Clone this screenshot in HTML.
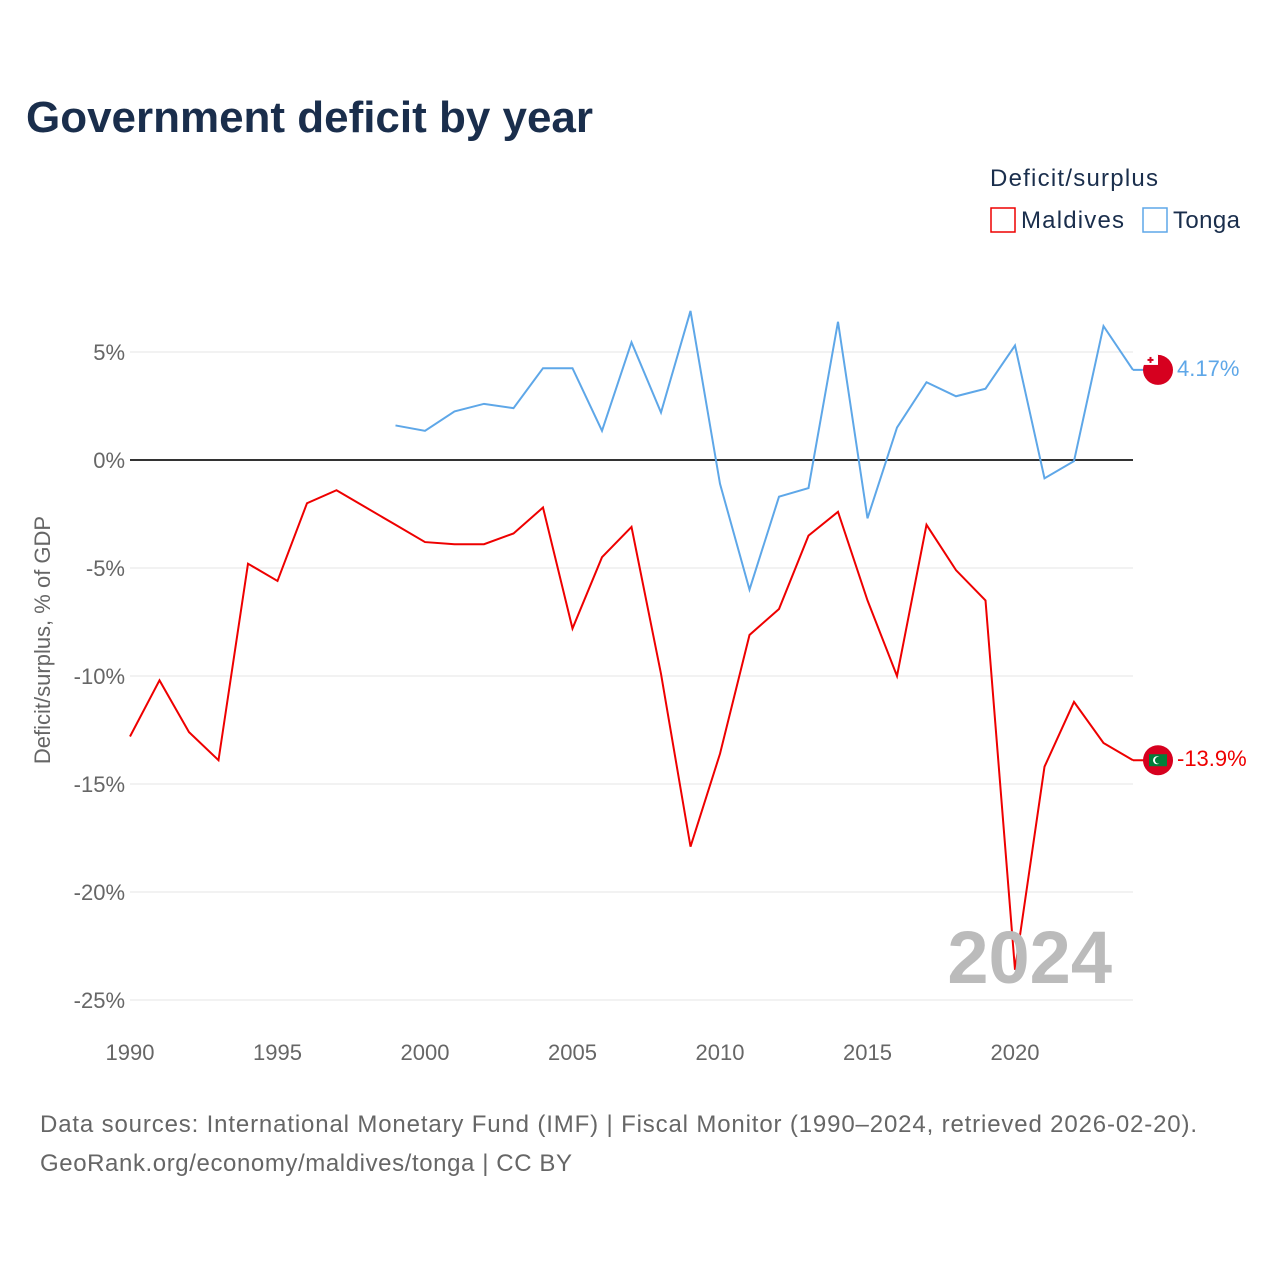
<!DOCTYPE html>
<html><head><meta charset="utf-8">
<style>
body{margin:0;background:#fff;font-family:"Liberation Sans",sans-serif;}
#wrap{position:relative;width:1280px;height:1280px;overflow:hidden;}
</style></head>
<body>
<div id="wrap">
<svg id="chart" width="1280" height="1280" xmlns="http://www.w3.org/2000/svg">
<text x="26" y="132" font-size="44" font-weight="bold" fill="#1a2e4c" textLength="567">Government deficit by year</text>
<text x="990" y="186" font-size="24" fill="#1a2e4c" textLength="168">Deficit/surplus</text>
<g>
<rect x="991" y="208" width="24" height="24" fill="none" stroke="#ee0000" stroke-width="1.5"/>
<text x="1021" y="228" font-size="24" fill="#1a2e4c" textLength="103">Maldives</text></g>
<g>
<rect x="1143" y="208" width="24" height="24" fill="none" stroke="#5ea7e8" stroke-width="1.5"/>
<text x="1173" y="228" font-size="24" fill="#1a2e4c" textLength="67">Tonga</text></g>
<text transform="translate(50,640) rotate(-90)" text-anchor="middle" font-size="22" fill="#666">Deficit/surplus, % of GDP</text>
<g id="grid"></g><g id="series"></g>
<text x="1112" y="983" text-anchor="end" font-size="74" font-weight="bold" fill="#bbb">2024</text>
<text x="40" y="1132" font-size="24" fill="#666" textLength="1157">Data sources: International Monetary Fund (IMF) | Fiscal Monitor (1990–2024, retrieved 2026-02-20).</text>
<text x="40" y="1171" font-size="24" fill="#666" textLength="532">GeoRank.org/economy/maldives/tonga | CC BY</text>
</svg></div>
<script>
const maldivesYears=[1990,1991,1992,1993,1994,1995,1996,1997,1998,1999,2000,2001,2002,2003,2004,2005,2006,2007,2008,2009,2010,2011,2012,2013,2014,2015,2016,2017,2018,2019,2020,2021,2022,2023,2024];
const maldivesValues=[-12.8,-10.2,-12.6,-13.9,-4.8,-5.6,-2.0,-1.4,-2.2,-3.0,-3.8,-3.9,-3.9,-3.4,-2.2,-7.8,-4.5,-3.1,-9.9,-17.9,-13.6,-8.1,-6.9,-3.5,-2.4,-6.5,-10.0,-3.0,-5.1,-6.5,-23.6,-14.2,-11.2,-13.1,-13.9];
const tongaYears=[1999,2000,2001,2002,2003,2004,2005,2006,2007,2008,2009,2010,2011,2012,2013,2014,2015,2016,2017,2018,2019,2020,2021,2022,2023,2024];
const tongaValues=[1.6,1.35,2.25,2.6,2.4,4.25,4.25,1.35,5.45,2.2,6.9,-1.1,-6.0,-1.7,-1.3,6.4,-2.7,1.5,3.6,2.95,3.3,5.3,-0.85,-0.05,6.2,4.17];
const yTicks=[5,0,-5,-10,-15,-20,-25];
const xTicks=[1990,1995,2000,2005,2010,2015,2020];
const NS="http://www.w3.org/2000/svg";
function xs(y){return 130+(y-1990)*(1133-130)/34;}
function ys(v){return 460-v*21.6;}
function mk(t,a,p){const e=document.createElementNS(NS,t);for(const k in a)e.setAttribute(k,a[k]);p.appendChild(e);return e;}
const grid=document.getElementById('grid'),ser=document.getElementById('series');
yTicks.forEach(v=>{
 const l=mk('line',{x1:130,x2:1133,y1:ys(v),y2:ys(v),stroke:v===0?'#333':'#e6e6e6','stroke-width':v===0?2:1},grid);
 
 
 const t=mk('text',{x:125,y:ys(v)+8,'text-anchor':'end','font-size':22,fill:'#666'},grid);
 t.textContent=v+'%';
 
 
});
xTicks.forEach(y=>{
 const t=mk('text',{x:xs(y),y:1060,'text-anchor':'middle','font-size':22,fill:'#666'},grid);
 t.textContent=y;
 
 
});
function line(years,vals,color,name,label,kind){
 const p=mk('polyline',{points:years.map((y,i)=>xs(y)+','+ys(vals[i])).join(' '),fill:'none',stroke:color,'stroke-width':2},ser);
 
 
 const ly=ys(vals[vals.length-1]);
 mk('line',{x1:1133,x2:1150,y1:ly,y2:ly,stroke:color,'stroke-width':2},ser);
 const c=mk('circle',{cx:1158,cy:ly,r:15,fill:'#d6001f'},ser);
 
 
 if(kind==='mv'){
  mk('rect',{x:1149,y:ly-6,width:18,height:12,fill:'#007e3a'},ser);
  mk('circle',{cx:1157,cy:ly,r:4,fill:'#fff'},ser);
  mk('circle',{cx:1158.5,cy:ly,r:3.5,fill:'#007e3a'},ser);
 }else{
  mk('rect',{x:1143,y:ly-15,width:15,height:10,fill:'#fff'},ser);
  mk('rect',{x:1149.5,y:ly-13,width:2,height:6,fill:'#d6001f'},ser);
  mk('rect',{x:1147.5,y:ly-11,width:6,height:2,fill:'#d6001f'},ser);
 }
 const t=mk('text',{x:1177,y:ly+6,'font-size':22,fill:color},ser);
 t.textContent=label;
 
 
}
line(tongaYears,tongaValues,'#5ea7e8','tonga-line','4.17%','to');
line(maldivesYears,maldivesValues,'#ee0000','maldives-line','-13.9%','mv');
</script>
</body></html>
